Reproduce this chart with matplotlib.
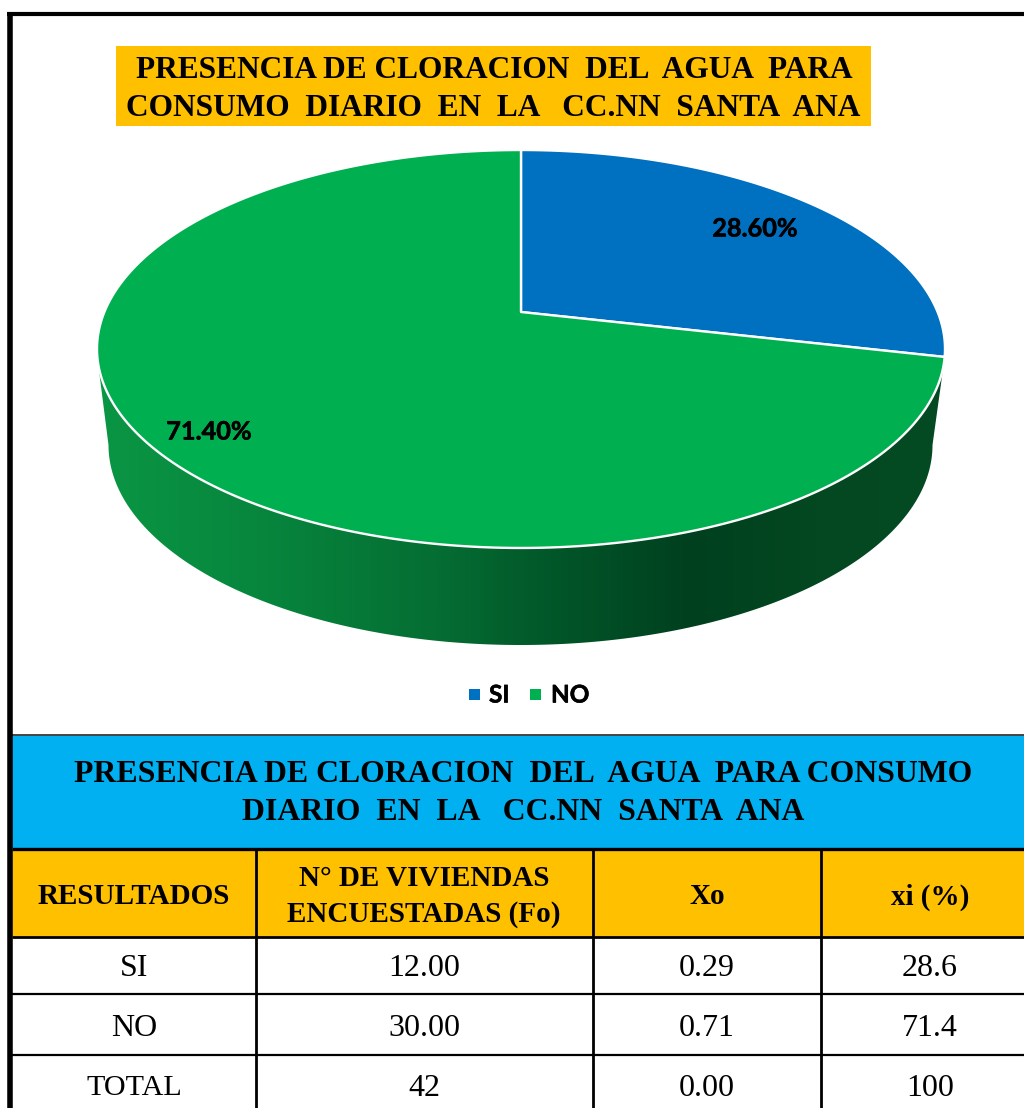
#!/usr/bin/env python3
import numpy as np
import matplotlib
matplotlib.use("Agg")
import matplotlib.pyplot as plt
import matplotlib.patheffects as pe
from matplotlib.colors import LinearSegmentedColormap
from matplotlib.patches import Polygon, Rectangle

# Data
pie_labels = ["SI", "NO"]
pie_values = [28.6, 71.4]
pie_texts = ["28.60%", "71.40%"]
title_lines = ["PRESENCIA DE CLORACION  DEL  AGUA  PARA",
               "CONSUMO  DIARIO  EN  LA   CC.NN  SANTA  ANA"]
table_title = ["PRESENCIA DE CLORACION  DEL  AGUA  PARA CONSUMO",
               "DIARIO  EN  LA   CC.NN  SANTA  ANA"]
col_headers = [["RESULTADOS"], ["N° DE VIVIENDAS", "ENCUESTADAS (Fo)"], ["Xo"], ["xi (%)"]]
col_a = ["SI", "NO", "TOTAL"]
col_b = ["12.00", "30.00", "42"]
col_c = ["0.29", "0.71", "0.00"]
col_d = ["28.6", "71.4", "100"]

BLUE = "#0070C0"
GREEN = "#00B050"
ORANGE = "#FFC000"
CYAN = "#00B0F0"
SERIF = "Liberation Serif"
LABEL_FONT = "Lato"
# Lato bold comes out lighter than the original label font
THICKEN = [pe.withStroke(linewidth=0.4, foreground="black")]


def project(theta):
    """Tilted pie top: angle clockwise from 12 o'clock to pixel position"""
    x, y = np.sin(theta), np.cos(theta)
    w = 1 + 0.1859 * y
    return 521 + 416.6 * x / w, (312 - 134.1 * y) / w


def wedge_points(start, end):
    t = np.radians(np.linspace(start, end, 300))
    px, py = project(t)
    return np.column_stack([np.r_[521, px], np.r_[312, py]])


fig = plt.figure(figsize=(10.24, 11.08), dpi=100)
ax = fig.add_axes([0, 0, 1, 1])

# Pie wall with horizontal shading
t = np.radians(np.linspace(0, 180, 300))
low_x = 520.5 + 412 * np.cos(t)
low_y = 445 + 200 * np.sin(t)
wall = np.vstack([[[945, 355]], np.column_stack([low_x, low_y]), [[97, 355]]])
wall_patch = Polygon(wall, closed=True, fc="none", ec="none", zorder=2)
ax.add_patch(wall_patch)
shade = LinearSegmentedColormap.from_list("wall", [
    (0.0, "#0A9644"), (0.20, "#07853D"), (0.40, "#056E33"), (0.52, "#02592A"),
    (0.70, "#00401F"), (0.85, "#034820"), (1.0, "#044A22")])
img = ax.imshow(np.linspace(0, 1, 512).reshape(1, -1), cmap=shade, aspect="auto",
                extent=[97, 945, 650, 350], zorder=2)
img.set_clip_path(wall_patch)

# Pie top
angles = np.cumsum([0] + pie_values) * 3.6
for i, color in enumerate([BLUE, GREEN]):
    ax.add_patch(Polygon(wedge_points(angles[i], angles[i + 1]), closed=True, fc=color,
                         ec="white", lw=1.7, joinstyle="round", zorder=3))

ax.text(755, 229, pie_texts[0], family=LABEL_FONT, weight="bold", fontsize=18.2,
        ha="center", va="center", zorder=5, path_effects=THICKEN)
ax.text(209, 432, pie_texts[1], family=LABEL_FONT, weight="bold", fontsize=18.2,
        ha="center", va="center", zorder=5, path_effects=THICKEN)

# Chart title
ax.add_patch(Rectangle((116, 46), 755, 80, fc=ORANGE, ec="none", zorder=1))
ax.text(494, 71, title_lines[0], family=SERIF, weight="bold", fontsize=22.6, ha="center", va="center", zorder=5)
ax.text(493, 109, title_lines[1], family=SERIF, weight="bold", fontsize=22.6, ha="center", va="center", zorder=5)

# Legend
for x, color, name, tx in zip([469, 530], [BLUE, GREEN], pie_labels, [489, 551]):
    ax.add_patch(Rectangle((x, 689), 11, 11, fc=color, ec="none", zorder=3))
    ax.text(tx, 695, name, family=LABEL_FONT, weight="bold", fontsize=17.5, ha="left", va="center",
            zorder=5, path_effects=THICKEN)

# Table backgrounds
ax.add_patch(Rectangle((12, 735), 1012, 113, fc=CYAN, ec="none", zorder=1))
ax.add_patch(Rectangle((12, 849), 1012, 88, fc=ORANGE, ec="none", zorder=1))
ax.text(523, 775, table_title[0], family=SERIF, weight="bold", fontsize=22.9, ha="center", va="center", zorder=5)
ax.text(523, 813, table_title[1], family=SERIF, weight="bold", fontsize=22.9, ha="center", va="center", zorder=5)

# Table lines
ax.plot([12, 1024], [734.5, 734.5], color="#444444", lw=1.4, zorder=4, solid_capstyle="butt")
for y, lw in zip([848.5, 937, 994, 1055], [2.4, 2.0, 1.6, 1.6]):
    ax.plot([12, 1024], [y, y], color="black", lw=lw, zorder=4, solid_capstyle="butt")
for x in [255.5, 592.5, 820.5]:
    ax.plot([x, x], [848, 1108], color="black", lw=2.0, zorder=4, solid_capstyle="butt")

# Outer frame
ax.plot([9.8, 9.8], [1108, 12], color="black", lw=4.0, zorder=6, solid_capstyle="butt")
ax.plot([7, 1024], [14.2, 14.2], color="black", lw=3.0, zorder=6, solid_capstyle="butt")

# Table text
col_centres = [134, 424, 707, 930]
for cx, lines in zip(col_centres, col_headers):
    if len(lines) == 1:
        ax.text(cx, 897, lines[0], family=SERIF, weight="bold", fontsize=21, ha="center", va="center", zorder=5)
    else:
        ax.text(cx, 878, lines[0], family=SERIF, weight="bold", fontsize=21, ha="center", va="center", zorder=5)
        ax.text(cx, 914, lines[1], family=SERIF, weight="bold", fontsize=21, ha="center", va="center", zorder=5)

row_centres = [969, 1029, 1088]
for cx, col in zip(col_centres, [col_a, col_b, col_c, col_d]):
    for cy, val in zip(row_centres, col):
        size = 23 if val != "TOTAL" else 21.7
        ax.text(cx, cy, val, family=SERIF, fontsize=size, ha="center", va="center", zorder=5)

ax.set_xlim(0, 1024)
ax.set_ylim(1108, 0)
ax.axis("off")

fig.savefig("out.png", dpi=100, facecolor="white")
plt.close(fig)
